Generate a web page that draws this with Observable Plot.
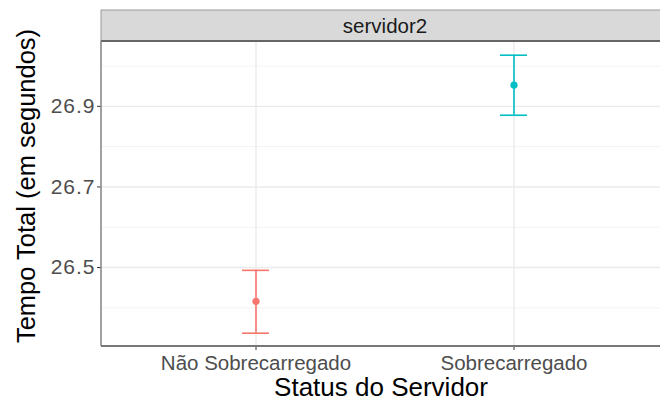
<!DOCTYPE html>
<html>
<head>
<meta charset="utf-8">
<script src="https://cdn.jsdelivr.net/npm/d3@7"></script>
<script src="https://cdn.jsdelivr.net/npm/@observablehq/plot@0.6"></script>
<style>
  html, body { margin: 0; padding: 0; background: white; }
  #chart { width: 660px; height: 400px; overflow: hidden; }
  g[aria-label="y-axis tick label"] text { letter-spacing: 1px; }
</style>
</head>
<body>
<div id="chart"></div>
<script>
const categories = ["Não Sobrecarregado", "Sobrecarregado"];
const means = [26.416, 26.953];
const lower = [26.337, 26.878];
const upper = [26.493, 27.027];
const colors = ["#F8766D", "#00BFC4"];
const majorTicks = [26.5, 26.7, 26.9];
const minorTicks = [26.4, 26.6, 26.8, 27.0];
const yDomain = [26.304, 27.061];
const facetLabel = "servidor2";
const xTitle = "Status do Servidor";
const yTitle = "Tempo Total (em segundos)";

const data = categories.map((c, i) => ({cat: c, mean: means[i], lo: lower[i], hi: upper[i]}));

const font = "'Liberation Sans', Arial, Helvetica, sans-serif";

const plot = Plot.plot({
  width: 660,
  height: 400,
  marginLeft: 101,
  marginTop: 41,
  marginBottom: 54,
  marginRight: 0,
  style: {fontFamily: font, background: "white", overflow: "hidden"},
  x: {type: "band", domain: categories, range: [101, 669], paddingInner: 0.895, paddingOuter: 0.5477, align: 0.5},
  y: {domain: yDomain, range: [346, 41]},
  color: {domain: categories, range: colors},
  marks: [
    Plot.gridY(minorTicks, {stroke: "#EFEFEF", strokeOpacity: 1, strokeWidth: 0.8}),
    Plot.gridY(majorTicks, {stroke: "#EBEBEB", strokeOpacity: 1, strokeWidth: 1.4}),
    Plot.gridX(categories, {stroke: "#EBEBEB", strokeOpacity: 1, strokeWidth: 1.4}),
    Plot.ruleX(data, {x: "cat", y1: "lo", y2: "hi", stroke: "cat", strokeWidth: 1.6}),
    Plot.tickY(data, {x: "cat", y: "hi", stroke: "cat", strokeWidth: 1.6}),
    Plot.tickY(data, {x: "cat", y: "lo", stroke: "cat", strokeWidth: 1.6}),
    Plot.dot(data, {x: "cat", y: "mean", fill: "cat", r: 3.6}),
    Plot.axisY({ticks: majorTicks, tickFormat: d3.format(".1f"), tickSize: 4, tickPadding: 2, fontSize: 21, fill: "#4D4D4D", stroke: "#333", label: null}),
    Plot.axisX({tickSize: 4, tickPadding: 5, fontSize: 20.5, fill: "#4D4D4D", stroke: "#333", label: null}),
    Plot.text([xTitle], {frameAnchor: "bottom", dy: 49, fontSize: 26, fill: "black"}),
    Plot.text([yTitle], {frameAnchor: "left", textAnchor: "middle", dx: -75, dy: -8, rotate: -90, fontSize: 25.5, fill: "black"})
  ]
});

const svg = d3.select(plot);
// facet strip
svg.append("rect")
  .attr("x", 101).attr("y", 10).attr("width", 568).attr("height", 31)
  .attr("fill", "#D9D9D9").attr("stroke", "#9A9A9A").attr("stroke-width", 1);
svg.append("text")
  .attr("x", 385).attr("y", 25.5).attr("dy", "0.35em")
  .attr("text-anchor", "middle")
  .attr("font-size", 20.5).attr("fill", "#1A1A1A").attr("font-family", font)
  .text(facetLabel);
// panel borders (top under strip, left, bottom)
svg.append("line").attr("x1", 101).attr("x2", 669).attr("y1", 41).attr("y2", 41)
  .attr("stroke", "#666").attr("stroke-width", 1.8);
svg.append("line").attr("x1", 101).attr("x2", 101).attr("y1", 41).attr("y2", 346)
  .attr("stroke", "#8A8A8A").attr("stroke-width", 1.6);
svg.append("line").attr("x1", 101).attr("x2", 669).attr("y1", 346).attr("y2", 346)
  .attr("stroke", "#777").attr("stroke-width", 1.8);

document.getElementById("chart").appendChild(plot);
</script>
</body>
</html>
